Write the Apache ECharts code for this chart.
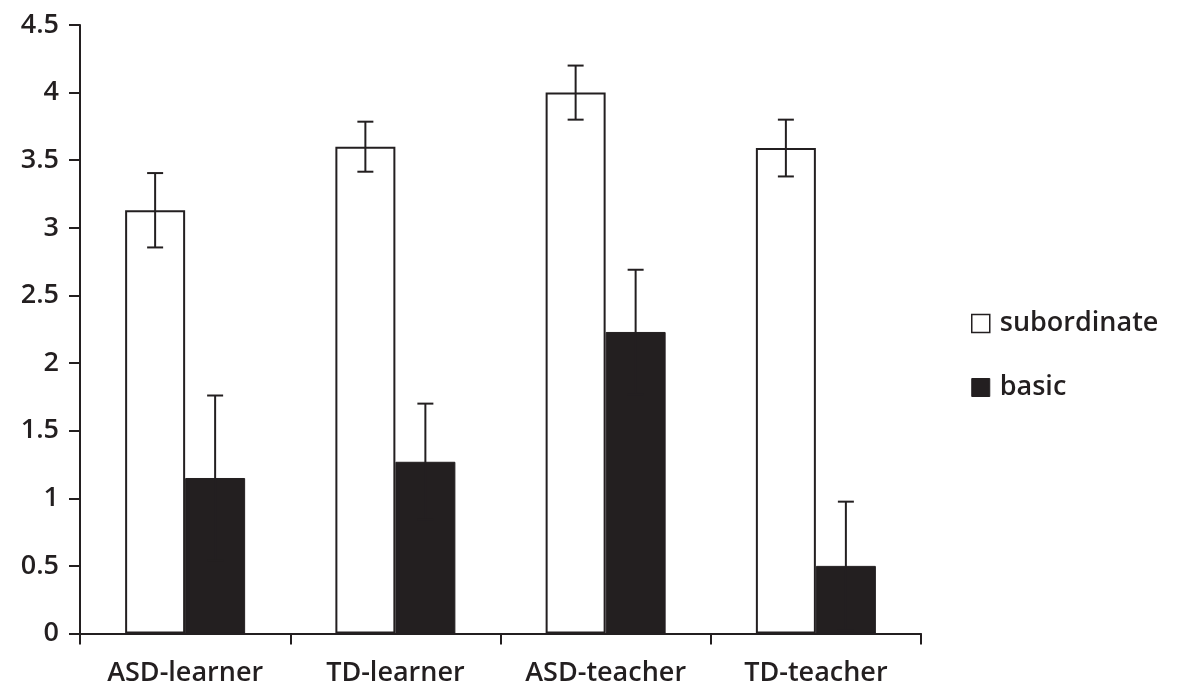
<!DOCTYPE html>
<html>
<head>
<meta charset="utf-8">
<script src="https://cdn.jsdelivr.net/npm/echarts@6/dist/echarts.min.js"></script>
<style>
  html, body { margin: 0; padding: 0; background: #fff; }
  #chart { width: 1177px; height: 692px; }
</style>
</head>
<body>
<div id="chart"></div>
<script>
// Groups along the x axis
const categories = ['ASD-learner', 'TD-learner', 'ASD-teacher', 'TD-teacher'];
// Mean scores per group
const subordinate = [3.13, 3.60, 4.00, 3.59];
const basic = [1.15, 1.27, 2.23, 0.50];
// Error bar half-lengths per group
const subordinateErr = [0.275, 0.185, 0.20, 0.21];
const basicErr = [0.61, 0.43, 0.46, 0.475];
// Value axis ticks
const yTicks = [0, 0.5, 1, 1.5, 2, 2.5, 3, 3.5, 4, 4.5];

const INK = '#231f20';
const FONT = 'Open Sans';
const FONT_SIZE = 27;

const chart = echarts.init(document.getElementById('chart'));

// Builds a vertical error bar with caps; seriesIdx picks the left (0) or right (1) bar of a group
function errorBarSeries(name, means, errs, seriesIdx) {
  return {
    type: 'custom',
    name: name + '-err',
    z: 10,
    silent: true,
    data: means.map((m, i) => [i, m - errs[i], m + errs[i]]),
    renderItem: function (params, api) {
      const idx = api.value(0);
      const lo = api.coord([idx, api.value(1)]);
      const hi = api.coord([idx, api.value(2)]);
      const barW = 60;
      const cx = lo[0] + (seriesIdx === 0 ? -barW / 2 : barW / 2);
      const cap = 8;
      const style = { stroke: INK, lineWidth: 2 };
      return {
        type: 'group',
        children: [
          { type: 'line', shape: { x1: cx, y1: lo[1], x2: cx, y2: hi[1] }, style: style },
          { type: 'line', shape: { x1: cx - cap, y1: hi[1], x2: cx + cap, y2: hi[1] }, style: style },
          { type: 'line', shape: { x1: cx - cap, y1: lo[1], x2: cx + cap, y2: lo[1] }, style: style }
        ]
      };
    }
  };
}

chart.setOption({
  animation: false,
  backgroundColor: '#ffffff',
  grid: { left: 80, right: 256, top: 25, bottom: 58.5, containLabel: false },
  legend: {
    orient: 'vertical',
    left: 966,
    top: 305,
    itemWidth: 18,
    itemHeight: 18,
    itemGap: 37,
    data: [
      { name: 'subordinate', icon: 'rect', itemStyle: { color: '#ffffff', borderColor: INK, borderWidth: 1.5 } },
      { name: 'basic', icon: 'rect', itemStyle: { color: INK, borderColor: INK, borderWidth: 1 } }
    ],
    textStyle: { fontFamily: FONT, fontSize: FONT_SIZE, fontWeight: 600, color: INK, padding: [0, 0, 0, 5], lineHeight: 22 }
  },
  xAxis: {
    type: 'category',
    data: categories,
    axisLine: { lineStyle: { color: INK, width: 2 } },
    axisTick: { show: true, length: 11, lineStyle: { color: INK, width: 2 } },
    axisLabel: { fontFamily: FONT, fontSize: FONT_SIZE, fontWeight: 600, color: INK, margin: 26 },
    splitLine: { show: false }
  },
  yAxis: {
    type: 'value',
    min: yTicks[0],
    max: yTicks[yTicks.length - 1],
    interval: 0.5,
    axisLine: { show: true, lineStyle: { color: INK, width: 2 } },
    axisTick: { show: true, length: 11, lineStyle: { color: INK, width: 2 } },
    axisLabel: { fontFamily: FONT, fontSize: FONT_SIZE, fontWeight: 600, color: INK, margin: 21 },
    splitLine: { show: false }
  },
  series: [
    {
      name: 'subordinate',
      type: 'bar',
      data: subordinate,
      barWidth: 60,
      barGap: '0%',
      itemStyle: { color: '#ffffff', borderColor: INK, borderWidth: 2 }
    },
    {
      name: 'basic',
      type: 'bar',
      data: basic,
      barWidth: 60,
      itemStyle: { color: INK, borderColor: INK, borderWidth: 1 }
    },
    errorBarSeries('subordinate', subordinate, subordinateErr, 0),
    errorBarSeries('basic', basic, basicErr, 1)
  ]
});
</script>
</body>
</html>
